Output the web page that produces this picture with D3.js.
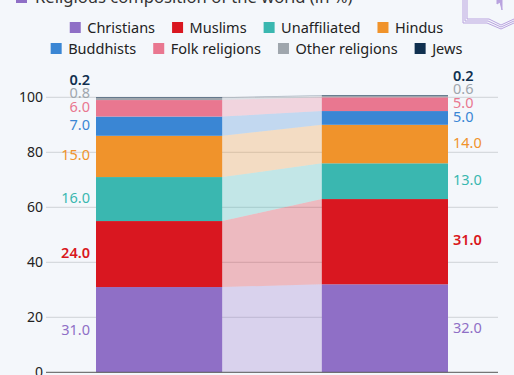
<!DOCTYPE html>
<html>
<head>
<meta charset="utf-8">
<script src="https://cdn.jsdelivr.net/npm/d3@7"></script>
<style>
    html, body { margin: 0; padding: 0; background: #f4f7fb; overflow: hidden; }
    text { font-family: "Noto Sans", "Open Sans", sans-serif; }
    .tick text { font-size: 14px; fill: #222; }
    .legend text { font-size: 14.5px; fill: #222; }
    .val { font-size: 14.5px; }
</style>
</head>
<body>
<div id="chart"></div>
<script>
    // Values
    const religions = ["Christians", "Muslims", "Unaffiliated", "Hindus", "Buddhists", "Folk religions", "Other religions", "Jews"];
    const colors = ["#8f6fc6", "#d91720", "#3ab7b0", "#f0932b", "#3a86d4", "#e97790", "#9fa6ad", "#10304f"];
    const leftValues = [31, 24, 16, 15, 7, 6, 0.8, 0.2];
    const rightValues = [32, 31, 13, 14, 5, 5, 0.6, 0.2];
    const yTicks = [0, 20, 40, 60, 80, 100];
    const legendRows = [[0, 1, 2, 3], [4, 5, 6, 7]];
    const title = "Religious composition of the world (in %)";

    const width = 514, height = 375;

    const svg = d3.select("#chart").append("svg")
        .attr("width", width)
        .attr("height", height)
        .style("display", "block");

    // Title, cut off by the top edge
    svg.append("rect").attr("x", 16).attr("y", -8).attr("width", 11).attr("height", 11).attr("fill", colors[0]);
    svg.append("text").attr("x", 35).attr("y", 3).attr("font-size", 16.6).attr("fill", "#333").text(title);

    // Book icon in the corner
    let icon = svg.append("g").attr("fill", "none").attr("stroke", "#b9a3df").attr("stroke-width", 1);
    [0, 2, 4].forEach(function (d) {
        icon.append("path")
            .attr("d", "M" + (463 + d) + ",-2 V" + (23 - d) + " H" + (487 + d / 2) + " L" + (501) + "," + (29 - d) + " L514," + (23 - d));
    });
    icon.append("path").attr("d", "M497,-2 V4 L500,2 L502,10 V-2").attr("fill", "#b9a3df");

    // Scales
    const y = d3.scaleLinear().domain([0, 100]).range([372.3, 97.3]);
    const x = d3.scaleBand().domain(["left", "right"]).range([96, 448]).paddingInner(0.441).paddingOuter(0);

    // Gridlines and y axis
    const yAxis = d3.axisLeft(y).tickValues(yTicks).tickSize(0).tickPadding(3).tickFormat(d3.format("d"));
    svg.append("g")
        .attr("transform", "translate(46,0)")
        .call(yAxis)
        .call(g => g.select(".domain").remove());

    svg.selectAll(".grid")
        .data(yTicks.filter(d => d > 0))
        .enter().append("line")
        .attr("class", "grid")
        .attr("x1", 46).attr("x2", 498)
        .attr("y1", d => y(d)).attr("y2", d => y(d))
        .attr("stroke", "#cfd3d8")
        .attr("stroke-width", 1);

    // Stack the two columns
    const rows = [
        Object.fromEntries(religions.map((r, i) => [r, leftValues[i]])),
        Object.fromEntries(religions.map((r, i) => [r, rightValues[i]]))
    ];
    const series = d3.stack().keys(religions)(rows);

    // Bands joining the two columns
    const link = d3.area()
        .x((d, i) => i === 0 ? x("left") + x.bandwidth() : x("right"))
        .y0(d => y(d[0]))
        .y1(d => y(d[1]));

    svg.selectAll(".link")
        .data(series)
        .enter().append("path")
        .attr("class", "link")
        .attr("d", d => link(d))
        .attr("fill", (d, i) => colors[i])
        .attr("opacity", 0.27);

    // Columns
    ["left", "right"].forEach(function (side, s) {
        svg.selectAll(".bar-" + side)
            .data(series)
            .enter().append("rect")
            .attr("class", "bar-" + side)
            .attr("x", x(side))
            .attr("width", x.bandwidth())
            .attr("y", d => y(d[s][1]))
            .attr("height", d => y(d[s][0]) - y(d[s][1]))
            .attr("fill", (d, i) => colors[i]);

        // Labels sit at the middle of their segment and get pushed up when they would touch
        let last = Infinity;
        series.forEach(function (d, i) {
            let ly = Math.min(y((d[s][0] + d[s][1]) / 2), last - 13.4);
            last = ly;
            svg.append("text")
                .attr("class", "val")
                .attr("x", s === 0 ? x(side) - 6 : x(side) + x.bandwidth() + 5)
                .attr("y", ly - (i > 0 ? 1.5 : 0))
                .attr("dy", "0.35em")
                .attr("text-anchor", s === 0 ? "end" : "start")
                .attr("fill", colors[i])
                .style("font-weight", i === 7 || i === 1 ? 600 : 400)
                .text(d3.format(".1f")(d[s].data[religions[i]]));
        });
    });

    // Baseline
    svg.append("line")
        .attr("x1", 46).attr("x2", 498)
        .attr("y1", y(0)).attr("y2", y(0))
        .attr("stroke", "#555")
        .attr("stroke-width", 1);

    // Legend, two centred rows
    const legend = svg.append("g").attr("class", "legend");
    legendRows.forEach(function (row, r) {
        let rowG = legend.append("g");
        let pos = 0;
        row.forEach(function (k) {
            let item = rowG.append("g").attr("transform", "translate(" + pos + ",0)");
            item.append("rect").attr("width", 11).attr("height", 11).attr("y", -5.5).attr("fill", colors[k]);
            let t = item.append("text").attr("x", 17.5).attr("dy", "0.35em").text(religions[k]);
            pos += 17.5 + t.node().getComputedTextLength() + 17;
        });
        pos -= 17;
        rowG.attr("transform", "translate(" + (256.5 - pos / 2) + "," + (27.5 + r * 21) + ")");
    });
</script>
</body>
</html>
